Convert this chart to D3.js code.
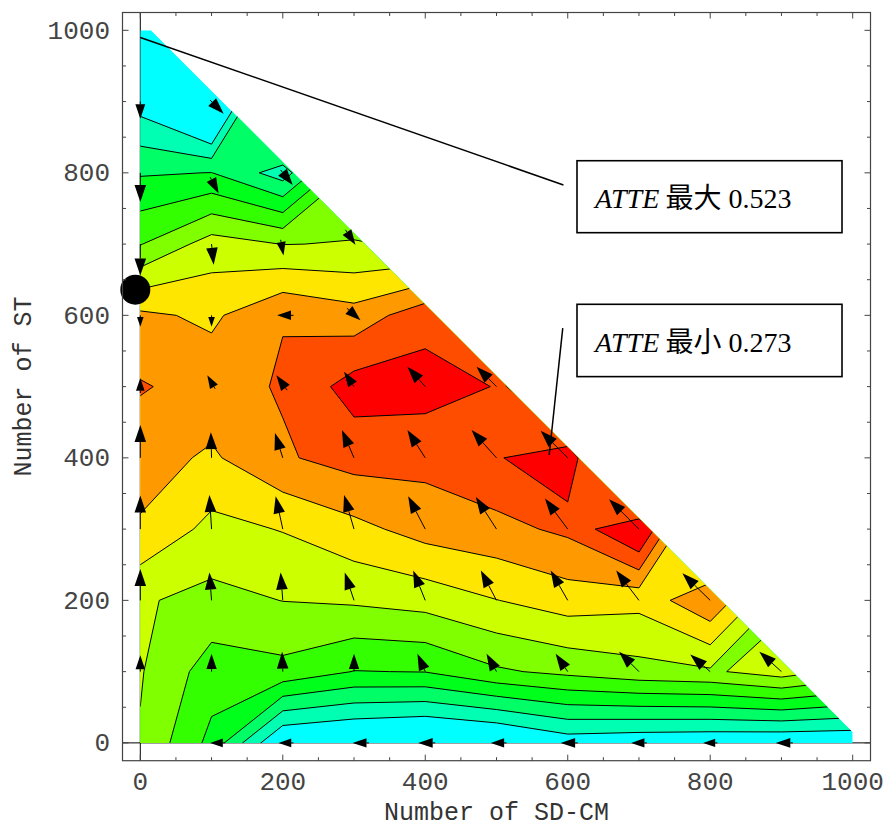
<!DOCTYPE html>
<html>
<head>
<meta charset="utf-8">
<script src="https://cdn.jsdelivr.net/npm/d3@7"></script>
<style>
  html, body { margin: 0; padding: 0; background: #fff; }
  svg { display: block; }
</style>
</head>
<body>
<svg id="chart" width="887" height="828"></svg>
<script>
"use strict";

// sample grid: SD-CM along x, ST along y
const gridX = [0, 100, 200, 300, 400, 500, 600, 700, 800, 900, 1000];
const gridY = [0, 100, 200, 300, 400, 500, 600, 700, 800, 900, 1000];

// ATTE on the grid, one row per ST value (first row is ST = 0).
// points with SD-CM + ST > 1000 lie outside the plotted triangle
const atte = [
  [0.3885, 0.4389, 0.5275, 0.5344, 0.5412, 0.5344, 0.5139, 0.5185, 0.5207, 0.5230, 0.5230],
  [0.3848, 0.4205, 0.4162, 0.4328, 0.4314, 0.4128, 0.4037, 0.3944, 0.3900, 0.3753, 0.3941],
  [0.3841, 0.3935, 0.3862, 0.3832, 0.3775, 0.3644, 0.3525, 0.3571, 0.3207, 0.3914, 0.4162],
  [0.3437, 0.3707, 0.3628, 0.3480, 0.3321, 0.3253, 0.3139, 0.2666, 0.4048, 0.4162, 0.4162],
  [0.3321, 0.3446, 0.3212, 0.3094, 0.3112, 0.2991, 0.2662, 0.4685, 0.4207, 0.4162, 0.4162],
  [0.3165, 0.3275, 0.3164, 0.2855, 0.2862, 0.2966, 0.4503, 0.4590, 0.4162, 0.4162, 0.4162],
  [0.3366, 0.3457, 0.3194, 0.3321, 0.3041, 0.3435, 0.3935, 0.4162, 0.4162, 0.4162, 0.4162],
  [0.4105, 0.3762, 0.3871, 0.3855, 0.3889, 0.3935, 0.4162, 0.4162, 0.4162, 0.4162, 0.4162],
  [0.4571, 0.4544, 0.4889, 0.4037, 0.4162, 0.4162, 0.4162, 0.4162, 0.4162, 0.4162, 0.4162],
  [0.5116, 0.5685, 0.3844, 0.4162, 0.4162, 0.4162, 0.4162, 0.4162, 0.4162, 0.4162, 0.4162],
  [0.5230, 0.5230, 0.4616, 0.4162, 0.4162, 0.4162, 0.4162, 0.4162, 0.4162, 0.4162, 0.4162]
];

// contour levels (10 lines between the min and the max)
const levels = [0.2957, 0.3185, 0.3412, 0.3639, 0.3866, 0.4094, 0.4321, 0.4548, 0.4775, 0.5003];

// vector field: [SD-CM, ST, dSD-CM, dST] (tail and offset, in data units)
const arrows = [
  [119, 0, -21, 0], [215, 0, -21, 0], [321, 0, -23, 0], [414, 0, -24, 0], [514, 0, -22, 0],
  [614, 0, -24, 0], [711, 0, -22, 0], [810, 0, -20, 0], [916, 0, -24, 0],
  [0, 100, 0, 23], [100, 100, 0, 25], [200, 100, -1, 28], [300, 100, 0, 25], [400, 100, -11, 25],
  [500, 100, -14, 25], [600, 100, -17, 25], [700, 100, -28, 28], [800, 100, -28, 24], [900, 100, -31, 28],
  [0, 200, 0, 44], [100, 200, -3, 39], [200, 200, -3, 39], [300, 200, -13, 39], [400, 200, -17, 42],
  [500, 200, -22, 42], [600, 200, -24, 42], [700, 200, -32, 42], [800, 200, -39, 38],
  [0, 300, 0, 47], [100, 300, -3, 48], [200, 300, -10, 46], [300, 300, -14, 48], [400, 300, -24, 46],
  [500, 300, -29, 45], [600, 300, -32, 43], [700, 300, -42, 42],
  [0, 400, 0, 46], [100, 400, -1, 36], [200, 400, -11, 35], [300, 400, -17, 39], [400, 400, -25, 39],
  [500, 400, -35, 39], [600, 400, -38, 38],
  [0, 491, 0, 21], [105, 497, -11, 19], [206, 495, -15, 21], [300, 500, -14, 21], [400, 500, -25, 28],
  [500, 500, -28, 28],
  [0, 600, 0, -16], [100, 600, 0, -16], [215, 600, -23, 0], [290, 610, 19, -17],
  [0, 700, 0, -44], [100, 700, 3, -29], [197, 706, 4, -22], [288, 720, 14, -21],
  [0, 800, 0, -41], [98, 794, 12, -23], [197, 804, 17, -21],
  [0, 900, 0, -24], [98, 902, 19, -19]
];

// the filled region ends at SD-CM + ST = 1015
const diagonalSum = 1015;

// marked point on the ST axis
const marker = [-7, 636];

// annotations
const noteLabels = ["最大", "最小"];
const noteValues = ["0.523", "0.273"];

const xTicks = d3.range(0, 1001, 200);
const yTicks = d3.range(0, 1001, 200);

// ---------------------------------------------------------------
const svg = d3.select("#chart");

const x = d3.scaleLinear().domain([-25, 1025]).range([122.5, 870.5]);
const y = d3.scaleLinear().domain([-25, 1025]).range([760.7, 12.5]);

const bandColor = k => d3.hsl(k * 18, 1, 0.5).formatHex();

const x0 = gridX[0], x1 = gridX[gridX.length - 1];
const y0 = gridY[0], y1 = gridY[gridY.length - 1];

// clip to the triangle of valid combinations
const hull = [[x0, y0], [x1, y0], [x1, diagonalSum - x1], [diagonalSum - y1, y1], [x0, y1]];
const hullPath = "M" + hull.map(p => x(p[0]) + "," + y(p[1])).join("L") + "Z";

svg.append("defs").append("clipPath").attr("id", "tri")
  .append("path").attr("d", hullPath);

// axes lines through the origin (mostly hidden behind the fill)
svg.append("line")
  .attr("x1", x(-25)).attr("x2", x(1025)).attr("y1", y(0)).attr("y2", y(0))
  .attr("stroke", "#000").attr("stroke-width", 1);
svg.append("line")
  .attr("x1", x(0)).attr("x2", x(0)).attr("y1", y(-25)).attr("y2", y(1025))
  .attr("stroke", "#000").attr("stroke-width", 1);

// contours
const nx = gridX.length, ny = gridY.length;
const step = gridX[1] - gridX[0];
const flat = atte.flat();
const negFlat = flat.map(v => -v);
const contourGen = d3.contours().size([nx, ny]);

// d3.contours puts value i at grid coordinate i + 0.5
const toPx = d3.geoTransform({
  point(gx, gy) {
    this.stream.point(x(x0 + (gx - 0.5) * step), y(y0 + (gy - 0.5) * step));
  }
});
const path = d3.geoPath(toPx);

const outerRect = "M" + x(x0 - step / 2) + "," + y(y0 - step / 2) +
  "H" + x(x0 + (nx - 0.5) * step) + "V" + y(y0 + (ny - 0.5) * step) +
  "H" + x(x0 - step / 2) + "Z";

// saddle cells: most levels keep the higher side joined, this one the lower side
const joinLow = new Set([8]);

const shapes = levels.map((lv, k) => {
  let ring, area;
  if (joinLow.has(k)) {
    ring = path(contourGen.contour(flat, lv)) || "";
    area = outerRect + ring;
  } else {
    ring = path(contourGen.contour(negFlat, -lv)) || "";
    area = ring;
  }
  return { k, ring, area };
});

const plot = svg.append("g").attr("clip-path", "url(#tri)");

plot.append("path").attr("d", hullPath).attr("fill", bandColor(levels.length));

plot.selectAll("path.band")
  .data(shapes.slice().reverse())
  .join("path")
  .attr("class", "band")
  .attr("d", d => d.area)
  .attr("fill-rule", "evenodd")
  .attr("fill", d => bandColor(d.k));

plot.selectAll("path.iso")
  .data(shapes)
  .join("path")
  .attr("class", "iso")
  .attr("d", d => d.ring)
  .attr("fill", "none")
  .attr("stroke", "#000")
  .attr("stroke-width", 1);

// vector field
const arrowG = svg.append("g");
arrows.forEach(([ax, ay, u, v]) => {
  const px0 = x(ax), py0 = y(ay), px1 = x(ax + u), py1 = y(ay + v);
  const len = Math.hypot(px1 - px0, py1 - py0);
  const hl = Math.min(17, len * 0.85), hw = hl * 0.34;
  const ux = (px1 - px0) / len, uy = (py1 - py0) / len;
  const bx = px1 - ux * hl, by = py1 - uy * hl;
  arrowG.append("line")
    .attr("x1", px0).attr("y1", py0).attr("x2", bx).attr("y2", by)
    .attr("stroke", "#000").attr("stroke-width", 1);
  arrowG.append("path")
    .attr("d", `M${px1},${py1}L${bx - uy * hw},${by + ux * hw}L${bx + uy * hw},${by - ux * hw}Z`)
    .attr("fill", "#000");
});

// marked point
svg.append("circle")
  .attr("cx", x(marker[0])).attr("cy", y(marker[1])).attr("r", 15)
  .attr("fill", "#000");

// annotation boxes (data coordinates)
const notes = [
  { box: [613, 817, 985, 716], from: [0, 990], to: [594, 783] },
  { box: [613, 615.5, 985, 514], from: [593, 582], to: [574, 404] }
];
notes.forEach((n, i) => {
  svg.append("line")
    .attr("x1", x(n.from[0])).attr("y1", y(n.from[1]))
    .attr("x2", x(n.to[0])).attr("y2", y(n.to[1]))
    .attr("stroke", "#000").attr("stroke-width", 1.5);
  svg.append("rect")
    .attr("x", x(n.box[0])).attr("y", y(n.box[1]))
    .attr("width", x(n.box[2]) - x(n.box[0]))
    .attr("height", y(n.box[3]) - y(n.box[1]))
    .attr("fill", "#fff").attr("stroke", "#000").attr("stroke-width", 1.6);
  const t = svg.append("text")
    .attr("x", x(n.box[0]) + 18)
    .attr("y", y(n.box[1]) + 47.5)
    .style("font-size", "28px")
    .attr("fill", "#000");
  t.append("tspan").style("font-family", "'Liberation Serif', serif")
    .style("font-style", "italic").text("ATTE");
  t.append("tspan").style("font-family", "'Noto Sans CJK SC', sans-serif")
    .text(" " + noteLabels[i]);
  t.append("tspan").style("font-family", "'Liberation Serif', serif")
    .text(" " + noteValues[i]);
});

// frame
const fx0 = x(-25), fx1 = x(1025), fy0 = y(1025), fy1 = y(-25);
svg.append("rect")
  .attr("x", fx0).attr("y", fy0).attr("width", fx1 - fx0).attr("height", fy1 - fy0)
  .attr("fill", "none").attr("stroke", "#444").attr("stroke-width", 1.2);

// ticks on all four sides, pointing inward
const tickVals = d3.range(0, 1001, 50);
const tickLen = v => (v % 200 === 0 ? 6 : 3.5);
const tickG = svg.append("g").attr("stroke", "#444").attr("stroke-width", 1);
tickVals.forEach(v => {
  const L = tickLen(v);
  tickG.append("line").attr("x1", x(v)).attr("x2", x(v)).attr("y1", fy1).attr("y2", fy1 - L);
  tickG.append("line").attr("x1", x(v)).attr("x2", x(v)).attr("y1", fy0).attr("y2", fy0 + L);
  tickG.append("line").attr("y1", y(v)).attr("y2", y(v)).attr("x1", fx0).attr("x2", fx0 + L);
  tickG.append("line").attr("y1", y(v)).attr("y2", y(v)).attr("x1", fx1).attr("x2", fx1 - L);
});

const monoFont = "'Liberation Mono', 'DejaVu Sans Mono', monospace";

svg.append("g").selectAll("text")
  .data(xTicks)
  .join("text")
  .attr("x", d => x(d))
  .attr("y", 790)
  .attr("text-anchor", "middle")
  .style("font-family", monoFont).style("font-size", "26px")
  .attr("fill", "#444")
  .text(d => d);

svg.append("g").selectAll("text")
  .data(yTicks)
  .join("text")
  .attr("x", 110)
  .attr("y", d => y(d) + 8.5)
  .attr("text-anchor", "end")
  .style("font-family", monoFont).style("font-size", "26px")
  .attr("fill", "#444")
  .text(d => d);

// axis titles
svg.append("text")
  .attr("x", (fx0 + fx1) / 2).attr("y", 820)
  .attr("text-anchor", "middle")
  .style("font-family", monoFont).style("font-size", "25px")
  .attr("fill", "#333")
  .text("Number of SD-CM");

svg.append("text")
  .attr("transform", `translate(31,${(fy0 + fy1) / 2}) rotate(-90)`)
  .attr("text-anchor", "middle")
  .style("font-family", monoFont).style("font-size", "25px")
  .attr("fill", "#333")
  .text("Number of ST");
</script>
</body>
</html>
